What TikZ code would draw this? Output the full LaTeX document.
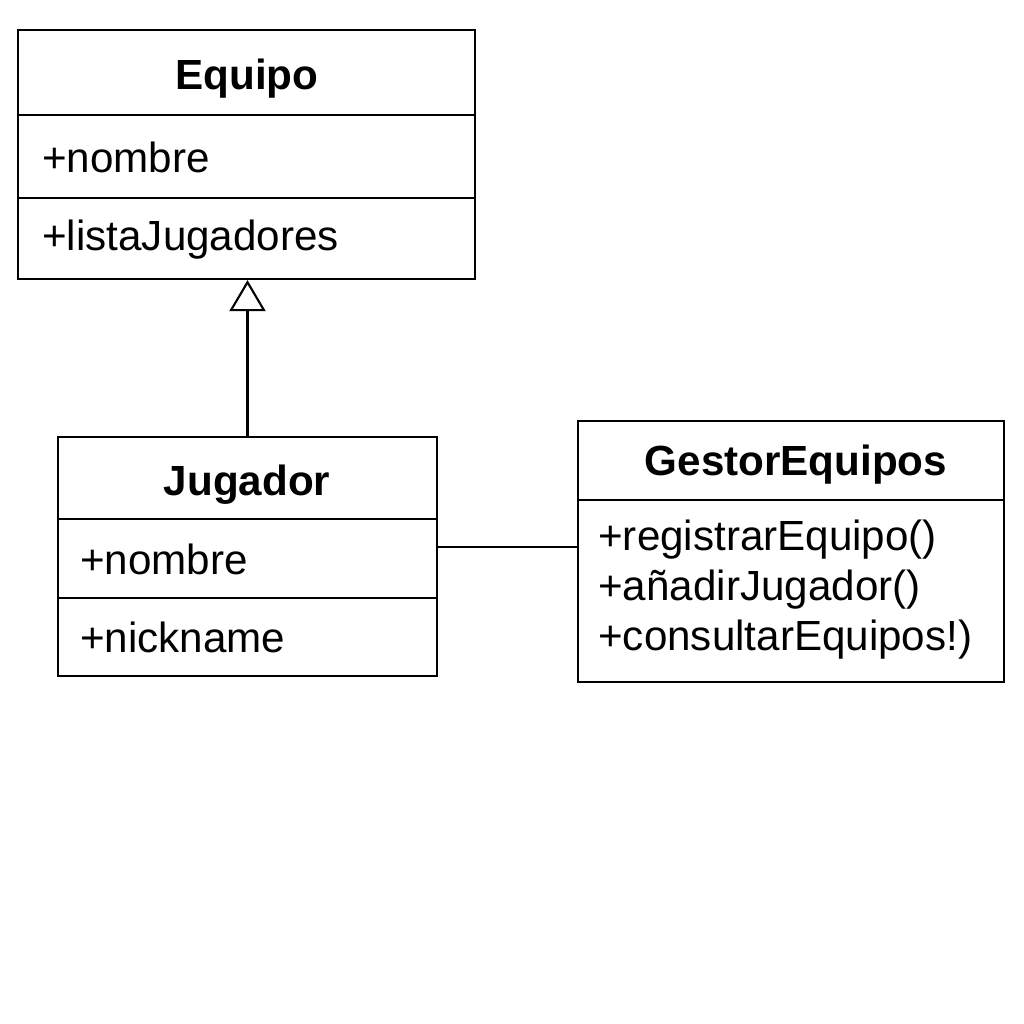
\documentclass[tikz,border=0pt]{standalone}
\usepackage{fontspec}
\setmainfont{Liberation Sans}
\usetikzlibrary{arrows.meta}

\begin{document}
\begin{tikzpicture}[x=0.02cm, y=-0.02cm,
    classbox/.style={draw, line width=1.3pt, rectangle, inner sep=0pt},
    title/.style={font=\fontsize{24}{28}\selectfont\bfseries},
    attr/.style={font=\fontsize{24}{28}\selectfont, anchor=west, inner sep=0pt},
    inherit/.style={line width=1.2pt, -{Triangle[open, length=0.62cm, width=0.72cm, line width=1.2pt]}}]
\useasboundingbox[fill=white] (0,0) rectangle (1024,1024);

% Equipo
\node[classbox, minimum width=9.14cm, minimum height=4.98cm] (equipo) at (246.5,154.5) {};
\draw[line width=1.3pt] (18,115) -- (475,115);
\draw[line width=1.3pt] (18,198) -- (475,198);
\node[title] (equipoT) at (247,79) {Equipo};
\node[attr] (equipoA1) at (42,157) {+nombre};
\node[attr] (equipoA2) at (42,240) {+listaJugadores};

% Jugador
\node[classbox, minimum width=7.58cm, minimum height=4.78cm] (jugador) at (247.5,556.5) {};
\draw[line width=1.3pt] (58,519) -- (437,519);
\draw[line width=1.3pt] (58,598) -- (437,598);
\node[title] (jugadorT) at (247,485) {Jugador};
\node[attr] (jugadorA1) at (80,559) {+nombre};
\node[attr] (jugadorA2) at (80,637) {+nickname};

% GestorEquipos
\node[classbox, minimum width=8.52cm, minimum height=5.22cm] (gestor) at (791,551.5) {};
\draw[line width=1.3pt] (578,500) -- (1004,500);
\node[title] (gestorT) at (796,465) {GestorEquipos};
\node[attr] (gestorM1) at (598,540) {+registrarEquipo()};
\node[attr] (gestorM2) at (598,590) {+añadirJugador()};
\node[attr] (gestorM3) at (598,640) {+consultarEquipos!)};

% Relaciones
\draw[inherit] (jugador.north) -- (jugador.north |- equipo.south);
\coordinate (assoc) at (507,547);
\draw[line width=1.2pt] (assoc -| jugador.east) -- (assoc -| gestor.west);
\end{tikzpicture}
\end{document}
